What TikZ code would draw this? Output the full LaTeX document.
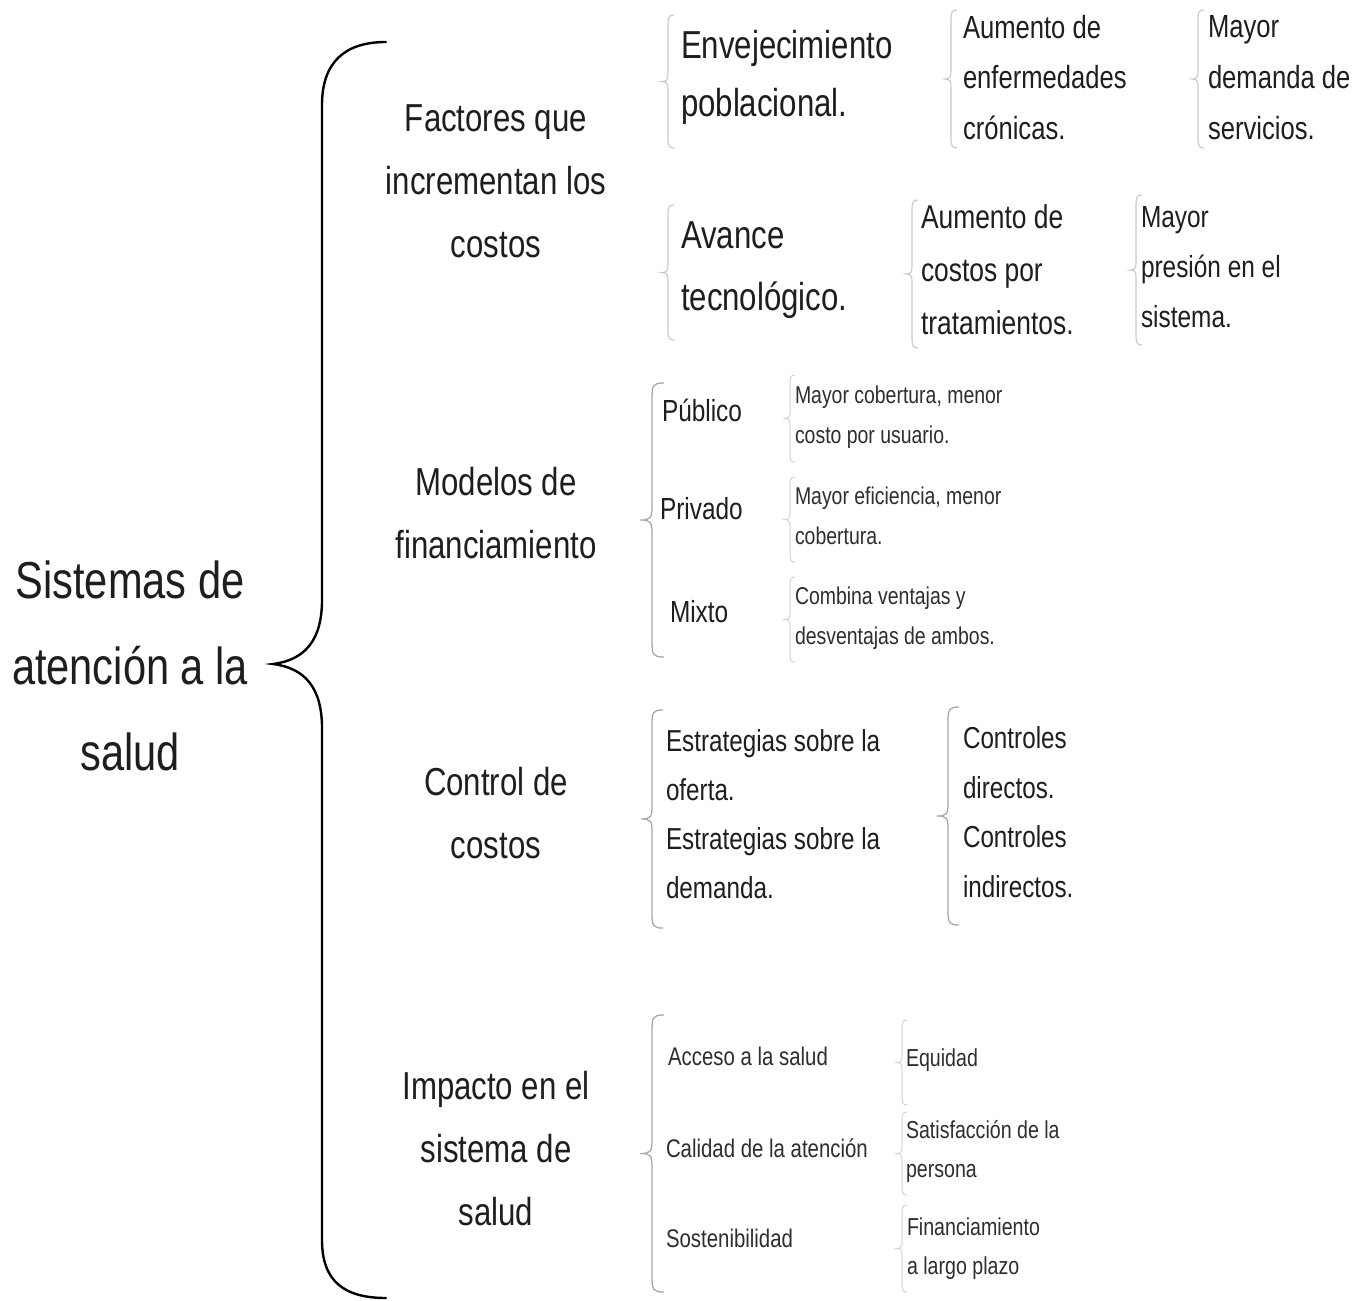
\documentclass[tikz,border=0pt]{standalone}
\usepackage{fontspec}
\setmainfont{Liberation Sans}[FakeStretch=0.8]
\definecolor{tc}{HTML}{1E1E1E}
\definecolor{tcs}{HTML}{2E2E2E}
\definecolor{bl}{HTML}{C8C8C8}
\definecolor{bm}{HTML}{A8A8A8}
\definecolor{bs}{HTML}{D4D4D4}
\newcommand\fs[2]{\fontsize{#1}{#2}\selectfont}
% small brace: #1 x, #2 top, #3 bottom, #4 hook, #5 style
\newcommand\sbrace[5]{%
  \draw[#5] ({#1+#4},#2) .. controls ({#1+1},#2) and (#1,{#2+2}) .. (#1,{#2+#4+4})
    -- (#1,{(#2+#3)/2-#4-2}) .. controls (#1,{(#2+#3)/2-2}) and ({#1-1},{(#2+#3)/2}) .. ({#1-#4},{(#2+#3)/2})
    .. controls ({#1-1},{(#2+#3)/2}) and (#1,{(#2+#3)/2+2}) .. (#1,{(#2+#3)/2+#4+2})
    -- (#1,{#3-#4-4}) .. controls (#1,{#3-2}) and ({#1+1},#3) .. ({#1+#4},#3);}
\begin{document}
\begin{tikzpicture}[x=1pt,y=-1pt,
  lvl1/.style={inner sep=0,outer sep=0,align=center,anchor=base,text=tc,font=\fs{52}{86}},
  lvl2/.style={inner sep=0,outer sep=0,align=center,anchor=base,text=tc,font=\fs{39}{63}},
  item/.style={inner sep=0,outer sep=0,align=left,anchor=base west,text=tc},
  smallitem/.style={inner sep=0,outer sep=0,align=left,anchor=base west,text=tcs},
  lightbrace/.style={draw=bl,line width=1.1pt},
  midbrace/.style={draw=bm,line width=1.3pt},
  faintbrace/.style={draw=bs,line width=1pt}]
\fill[white] (0,0) rectangle (1363,1301);
\useasboundingbox (0,0) rectangle (1363,1301);

% main title (positions give the baseline of the last line)
\node[lvl1] (root) at (130,770) {Sistemas de\\atención a la\\salud};

% big brace
\draw[black,line width=2.4pt,line cap=round]
  (386,42) .. controls (345,42) and (322,62) .. (322,105)
  -- (322,600) .. controls (322,640) and (305,660) .. (273,664)
  .. controls (305,668) and (322,688) .. (322,728)
  -- (322,1240) .. controls (322,1282) and (345,1298) .. (386,1298);

% level 2
\node[lvl2] (fact) at (496,257) {Factores que\\incrementan los\\costos};
\node[lvl2] (mod) at (496,558) {Modelos de\\financiamiento};
\node[lvl2] (ctrl) at (496,858) {Control de\\costos};
\node[lvl2] (imp) at (496,1225) {Impacto en el\\sistema de\\salud};

% Factores group
\sbrace{668}{15}{148}{6}{lightbrace}
\node[item,font=\fs{39}{58}] (env) at (681,116) {Envejecimiento\\poblacional.};
\sbrace{951}{10}{148}{6}{lightbrace}
\node[item,font=\fs{32}{50.5}] (aen) at (963,139) {Aumento de\\enfermedades\\crónicas.};
\sbrace{1198}{10}{148}{6}{lightbrace}
\node[item,font=\fs{32}{51}] (mdem) at (1208,139) {Mayor\\demanda de\\servicios.};

\sbrace{668}{205}{340}{6}{lightbrace}
\node[item,font=\fs{39}{62}] (ava) at (681,310) {Avance\\tecnológico.};
\sbrace{912}{200}{348}{6}{lightbrace}
\node[item,font=\fs{33}{53}] (acos) at (921,334) {Aumento de\\costos por\\tratamientos.};
\sbrace{1136}{195}{345}{6}{lightbrace}
\node[item,font=\fs{30.5}{50}] (mpres) at (1141,327) {Mayor\\presión en el\\sistema.};

% Modelos group
\sbrace{652}{383}{657}{12}{midbrace}
\node[item,font=\fs{30.5}{36}] (pub) at (662,421) {Público};
\node[item,font=\fs{30.5}{36}] (priv) at (660,519) {Privado};
\node[item,font=\fs{30.5}{36}] (mix) at (670,622) {Mixto};
\sbrace{790}{375}{462}{5}{faintbrace}
\sbrace{790}{477}{562}{5}{faintbrace}
\sbrace{790}{577}{662}{5}{faintbrace}
\node[smallitem,font=\fs{24.3}{40}] (dpub) at (795,443) {Mayor cobertura, menor\\costo por usuario.};
\node[smallitem,font=\fs{24.3}{40}] (dpriv) at (795,544) {Mayor eficiencia, menor\\cobertura.};
\node[smallitem,font=\fs{24.3}{40}] (dmix) at (795,644) {Combina ventajas y\\desventajas de ambos.};

% Control group
\sbrace{652}{710}{928}{11}{midbrace}
\node[item,font=\fs{30.3}{49}] (estr) at (666,898) {Estrategias sobre la\\oferta.\\Estrategias sobre la\\demanda.};
\sbrace{948}{707}{925}{11}{midbrace}
\node[item,font=\fs{30.3}{49.5}] (contr) at (963,897) {Controles\\directos.\\Controles\\indirectos.};

% Impacto group
\sbrace{652}{1015}{1292}{12}{midbrace}
\node[smallitem,font=\fs{25.5}{30}] (acc) at (668,1065) {Acceso a la salud};
\node[smallitem,font=\fs{25.5}{30}] (cal) at (666,1157) {Calidad de la atención};
\node[smallitem,font=\fs{25.5}{30}] (sost) at (666,1247) {Sostenibilidad};
\sbrace{902}{1020}{1105}{5}{faintbrace}
\sbrace{902}{1112}{1195}{5}{faintbrace}
\sbrace{902}{1205}{1292}{5}{faintbrace}
\node[smallitem,font=\fs{24.5}{39}] (equ) at (906,1066) {Equidad};
\node[smallitem,font=\fs{24.5}{39}] (sat) at (906,1177) {Satisfacción de la\\persona};
\node[smallitem,font=\fs{24.5}{39}] (fin) at (907,1274) {Financiamiento\\a largo plazo};
\end{tikzpicture}
\end{document}
